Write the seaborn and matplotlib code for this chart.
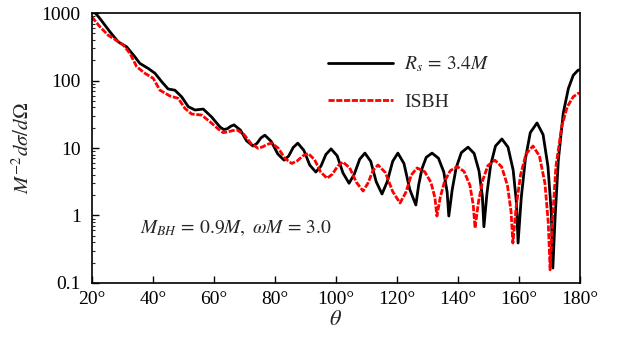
import numpy as np
import pandas as pd
import seaborn as sns
import matplotlib
matplotlib.use("Agg")
import matplotlib.pyplot as plt
from matplotlib.ticker import LogLocator, NullFormatter, FixedLocator, FixedFormatter

# ---- data ----
theta_rs = [20, 22.6, 25.9, 28.6, 31.4, 34.1, 35.7, 38.5, 40.7, 42.9, 45.0, 47.2, 49.4, 51.6,
            53.8, 56.5, 59.2, 62.0, 63.2, 64.4, 65.5, 66.6, 68.7, 70.7, 72.8, 74.1, 75.4, 76.7,
            78.8, 80.9, 83.0, 84.5, 86.0, 87.5, 89.5, 91.4, 93.4, 95.1, 96.7, 98.4, 100.4, 102.3,
            104.3, 106.0, 107.8, 109.5, 111.4, 113.2, 115.1, 116.8, 118.6, 120.3, 122.3, 124.2,
            126.2, 127.1, 128.2, 129.6, 131.5, 133.6, 135.35, 136.45, 137.0, 138.1, 139.4, 141.1,
            143.3, 145.3, 146.9, 148.0, 148.5, 149.5, 150.7, 152.3, 154.4, 156.4, 158.1, 159.2,
            159.7, 160.75, 162.1, 163.7, 165.9, 167.9, 169.5, 170.6, 171.1, 171.8, 172.9, 174.5,
            176.2, 177.8, 179.4, 180]
rs_values = [1150, 835, 530, 376, 316, 225, 180, 151, 128, 96, 75, 72, 57.6, 41,
             36.6, 37.8, 29, 20.5, 18.8, 19.3, 21.0, 22, 18.4, 12.8, 10.7, 11.7, 14.1, 15.5,
             12.5, 8.2, 6.6, 7.6, 10.2, 11.8, 9.2, 5.6, 4.4, 5.4, 8.0, 9.7, 7.67, 4.27,
             3.0, 4.08, 6.84, 8.4, 6.35, 3.16, 2.08, 3.16, 6.35, 8.4, 5.89, 2.43,
             1.43, 2.80, 4.93, 7.28, 8.4, 7.06, 4.41, 2.22, 0.98, 2.39, 5.08, 8.53,
             10.3, 8.30, 4.56, 1.91, 0.68, 2.12, 5.53, 10.7, 13.6, 10.3, 4.69, 1.50,
             0.39, 1.85, 6.87, 16.9, 23.5, 15.8, 5.32, 1.09, 0.166, 0.86, 6.6, 32.7,
             76.6, 120, 143, 143]

theta_isbh = [20, 22.6, 25.3, 27.5, 30.3, 32.5, 34.7, 37.4, 40.1, 42.3, 45.6, 48.3, 50.5, 52.7,
              56.0, 58.7, 61.5, 63.0, 64.5, 66.1, 67.6, 69.9, 72.2, 74.5, 76.0, 77.4, 78.9, 81.1,
              83.3, 85.5, 87.3, 89.1, 90.9, 93.0, 95.0, 97.1, 98.8, 100.6, 102.3, 104.5, 106.7,
              108.9, 110.5, 112.2, 113.8, 116.2, 118.6, 121.0, 122.9, 124.7, 126.6, 129.1, 131.15,
              132.45, 133.1, 134.2, 135.6, 137.5, 139.8, 142.0, 143.9, 145.0, 145.6, 146.7, 148.1,
              149.8, 152.1, 154.3, 156.2, 157.4, 158.0, 159.1, 160.5, 162.3, 164.6, 166.7, 168.5,
              169.6, 170.2, 171.0, 172.1, 174.0, 175.8, 177.8, 179.4, 180]
isbh_values = [880, 630, 472, 408, 336, 252, 160, 128, 108, 72, 59, 54.5, 38.7, 31.9,
               30.8, 24.5, 19.0, 16.9, 17.3, 18.1, 18.5, 15.8, 11.6, 9.9, 10.4, 11.3, 11.8, 9.93,
               7.0, 5.9, 6.43, 7.62, 8.3, 6.71, 4.40, 3.56, 4.08, 5.40, 6.2, 5.08, 3.10,
               2.3, 3.01, 4.69, 5.6, 4.32, 2.26, 1.53, 2.19, 3.98, 5.06, 4.44, 3.09,
               1.83, 0.98, 1.86, 3.19, 4.62, 5.3, 4.48, 2.82, 1.44, 0.65, 1.57, 3.30,
               5.48, 6.6, 5.27, 2.82, 1.14, 0.39, 1.37, 3.96, 8.2, 10.7, 7.62, 3.01,
               0.78, 0.156, 0.86, 5.3, 20.7, 40.7, 57.6, 64.6, 65]

x_ticks = [20, 40, 60, 80, 100, 120, 140, 160, 180]
x_tick_labels = ["20°", "40°", "60°", "80°", "100°", "120°", "140°", "160°", "180°"]
y_ticks = [0.1, 1, 10, 100, 1000]
y_tick_labels = ["0.1", "1", "10", "100", "1000"]
label_rs = r"$R_s\,=\,3.4M$"
label_isbh = "ISBH"
annotation = r"$M_{BH}\,=\,0.9M,\ \omega M\,=\,3.0$"

# ---- style ----
sns.set_theme(style="ticks")
plt.rcParams["font.family"] = ["Liberation Serif", "DejaVu Serif"]
plt.rcParams["mathtext.fontset"] = "stix"

fig, ax = plt.subplots(figsize=(6.25, 3.45), dpi=100)
fig.subplots_adjust(left=0.147, right=0.928, top=0.962, bottom=0.180)

df_rs = pd.DataFrame({"theta": theta_rs, "value": rs_values})
df_is = pd.DataFrame({"theta": theta_isbh, "value": isbh_values})

sns.lineplot(data=df_rs, x="theta", y="value", ax=ax, color="black", lw=2.0,
             estimator=None, sort=False, label=label_rs)
sns.lineplot(data=df_is, x="theta", y="value", ax=ax, color="#ff0000", lw=2.0,
             estimator=None, sort=False, label=label_isbh, dashes=False)
ax.lines[1].set_linestyle((0, (2.2, 0.6)))
for ln in ax.lines:
    ln.set_solid_joinstyle("round")
    ln.set_dash_joinstyle("round")

ax.set_yscale("log")
ax.set_xlim(20, 180)
ax.set_ylim(0.1, 1000)

ax.xaxis.set_major_locator(FixedLocator(x_ticks))
ax.xaxis.set_major_formatter(FixedFormatter(x_tick_labels))
ax.yaxis.set_major_locator(FixedLocator(y_ticks))
ax.yaxis.set_major_formatter(FixedFormatter(y_tick_labels))
ax.yaxis.set_minor_locator(LogLocator(base=10, subs=np.arange(2, 10)))
ax.yaxis.set_minor_formatter(NullFormatter())

ax.tick_params(axis="both", which="major", direction="in", length=5, width=1.0,
               labelsize=14, colors="black", top=False, right=False)
ax.tick_params(axis="y", which="major", pad=8)
ax.tick_params(axis="x", which="major", pad=6)
ax.tick_params(axis="y", which="minor", direction="in", length=2.5, width=0.8,
               left=True, right=False)
ax.tick_params(axis="x", which="minor", bottom=False, top=False)
for sp in ax.spines.values():
    sp.set_visible(True)
    sp.set_linewidth(1.2)
    sp.set_color("black")

ax.set_xlabel(r"$\theta$", fontsize=16, labelpad=2)
ax.set_ylabel(r"$M^{-2}d\sigma/d\Omega$", fontsize=15, labelpad=6)

ax.text(0.098, 0.204, annotation, transform=ax.transAxes, fontsize=14,
        va="center", ha="left")

leg = ax.legend(loc="upper left", bbox_to_anchor=(0.448, 0.912), frameon=False,
                fontsize=14, handlelength=3.35, labelspacing=1.0, handletextpad=0.57)

fig.savefig("out.png", dpi=100)
